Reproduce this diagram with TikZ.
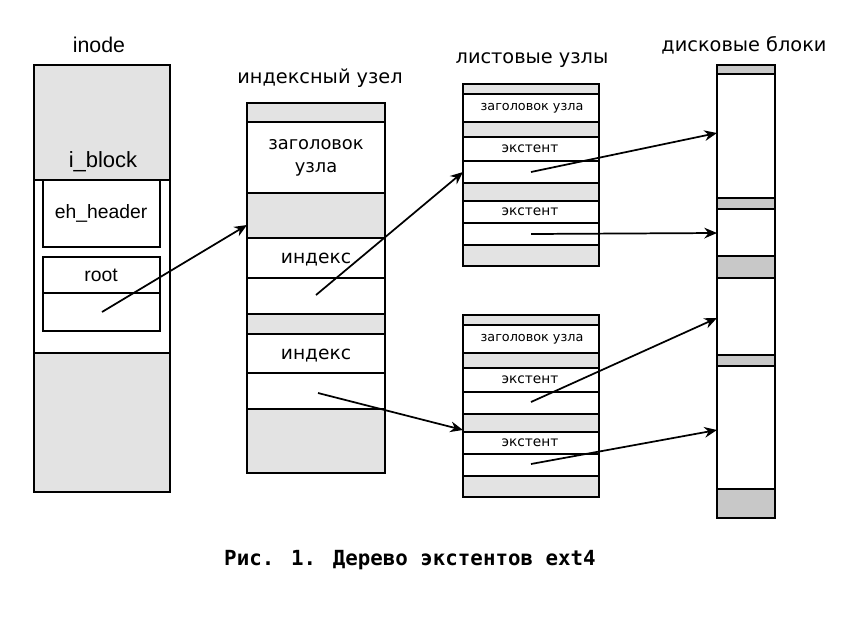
\documentclass[tikz,border=0pt]{standalone}
\usepackage{fontspec}
\setmainfont{DejaVu Sans}
\newfontfamily\latfont{Liberation Sans}
\newfontfamily\capfont{DejaVu Sans Mono}
\usetikzlibrary{arrows.meta}
\definecolor{cellgray}{HTML}{E3E3E3}
\definecolor{diskgray}{HTML}{C8C8C8}
\tikzset{
  cell/.style={draw, line width=1.4pt},
  ptr/.style={-{Stealth[length=9.5pt,width=8pt]}, line width=1.3pt},
  title/.style={font=\fontsize{14.5}{17}\selectfont},
  latlbl/.style={font=\latfont\fontsize{14.5}{17}\selectfont},
  idxlbl/.style={font=\fontsize{14}{17}\selectfont, align=center},
  leaflbl/.style={font=\fontsize{10.3}{12}\selectfont},
}

\begin{document}
\begin{tikzpicture}[x=0.75pt,y=-0.75pt]
\useasboundingbox (0,0) rectangle (857,643);

% inode
\draw[cell,fill=cellgray] (34,65) rectangle (170,492);
\draw[cell,fill=white] (34,180) rectangle (170,353);
\draw[cell] (43,180) rectangle (160,247);
\draw[cell] (43,257) rectangle (160,331);
\draw[cell] (43,293)--(160,293);
\node[latlbl,font=\latfont\fontsize{16}{18}\selectfont] (inodettl) at (99,45) {inode};
\node[latlbl,font=\latfont\fontsize{16.5}{18}\selectfont] (iblock) at (103,162) {i\_block};
\node[latlbl] (ehhdr) at (101,213) {eh\_header};
\node[latlbl] (root) at (101,275) {root};

% index node
\draw[cell,fill=cellgray] (247,103) rectangle (385,473);
\draw[cell,fill=white] (247,122) rectangle (385,193);
\draw[cell,fill=white] (247,238) rectangle (385,314);
\draw[cell] (247,278)--(385,278);
\draw[cell,fill=white] (247,334) rectangle (385,409);
\draw[cell] (247,373)--(385,373);
\node[title] (idxttl) at (320,78) {индексный узел};
\node[idxlbl,font=\fontsize{13.4}{17}\selectfont] (idxhdr) at (316,158) {заголовок\\узла};
\node[idxlbl] (idxa) at (316,260) {индекс};
\node[idxlbl] (idxb) at (316,356) {индекс};

% leaf nodes
\draw[cell,fill=cellgray] (463,84) rectangle (599,266);
\draw[cell,fill=white] (463,94) rectangle (599,122);
\draw[cell,fill=white] (463,137) rectangle (599,183);
\draw[cell] (463,161)--(599,161);
\draw[cell,fill=white] (463,201) rectangle (599,245);
\draw[cell] (463,223)--(599,223);
\node[leaflbl,font=\fontsize{9.6}{12}\selectfont] (lfhdra) at (532,108) {заголовок узла};
\node[leaflbl] (lfaa) at (530,149) {экстент};
\node[leaflbl] (lfab) at (530,212) {экстент};

\draw[cell,fill=cellgray] (463,315) rectangle (599,497);
\draw[cell,fill=white] (463,325) rectangle (599,353);
\draw[cell,fill=white] (463,368) rectangle (599,414);
\draw[cell] (463,392)--(599,392);
\draw[cell,fill=white] (463,432) rectangle (599,476);
\draw[cell] (463,454)--(599,454);
\node[leaflbl,font=\fontsize{9.6}{12}\selectfont] (lfhdrb) at (532,339) {заголовок узла};
\node[leaflbl] (lfba) at (530,380) {экстент};
\node[leaflbl] (lfbb) at (530,443) {экстент};
\node[title] (leafttl) at (532,60) {листовые узлы};

% disk blocks
\draw[cell,fill=diskgray] (717,65) rectangle (775,518);
\draw[cell,fill=white] (717,74) rectangle (775,198);
\draw[cell,fill=white] (717,209) rectangle (775,256);
\draw[cell,fill=white] (717,278) rectangle (775,355);
\draw[cell,fill=white] (717,366) rectangle (775,489);
\node[title] (diskttl) at (744,45) {дисковые блоки};

% pointers
\coordinate (rootp) at (102,312);
\coordinate (idxin) at (247,225);
\coordinate (idxpa) at (316,295);
\coordinate (idxpb) at (318,393);
\coordinate (lfain) at (463,172);
\coordinate (lfbin) at (463,430);
\coordinate (lfpa) at (531,172);
\coordinate (lfpb) at (531,234);
\coordinate (lfpc) at (531,402);
\coordinate (lfpd) at (531,464);
\coordinate (blka) at (717,133);
\coordinate (blkb) at (717,233);
\coordinate (blkc) at (717,318);
\coordinate (blkd) at (717,430);
\draw[ptr] (rootp)--(idxin);
\draw[ptr] (idxpa)--(lfain);
\draw[ptr] (idxpb)--(lfbin);
\draw[ptr] (lfpa)--(blka);
\draw[ptr] (lfpb)--(blkb);
\draw[ptr] (lfpc)--(blkc);
\draw[ptr] (lfpd)--(blkd);

\node[font=\capfont\bfseries\fontsize{15.6}{18}\selectfont] (caption) at (410,560) {Рис. 1. Дерево экстентов ext4};
\end{tikzpicture}
\end{document}
